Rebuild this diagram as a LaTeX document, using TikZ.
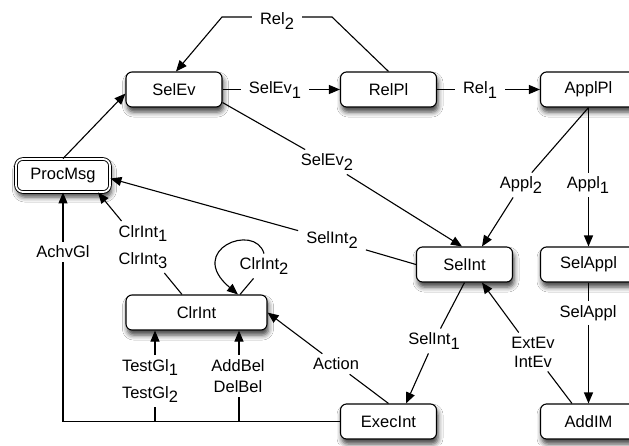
\documentclass[tikz,border=0pt]{standalone}
\usepackage{fontspec}
\setmainfont{Liberation Sans}
\usetikzlibrary{arrows.meta,shadows.blur,calc}
\newcommand\lsub[1]{\raisebox{-4.5pt}{#1}}
\begin{document}
\begin{tikzpicture}[x=1pt,y=-1pt,
  every node/.style={font=\fontsize{16.5}{19}\selectfont},
  box/.style={draw, line width=1.1pt, rounded corners=6pt, minimum width=96pt,
    minimum height=35pt, inner sep=0pt, fill=white,
    blur shadow={shadow xshift=1.5pt, shadow yshift=-5pt, shadow blur radius=5pt, shadow opacity=75}},
  dbox/.style={box, double, double distance=1.8pt, line width=0.9pt, minimum width=94pt, minimum height=33pt, rounded corners=7pt},
  lab/.style={inner xsep=8pt, inner ysep=4pt, align=center},
  con/.style={line width=1.1pt},
  arr/.style={con, -{Triangle[length=11pt,width=9pt]}}]
\useasboundingbox (0,0) rectangle (629,445);
\clip (0,0) rectangle (629,445);
\fill[white] (0,0) rectangle (629,445);

% boxes
\node[box] (SelEv) at (174,89.5) {SelEv};
\node[box] (RelPl) at (388.5,89.5) {RelPl};
\node[box] (ApplPl) at (588.5,89.5) {ApplPl};
\node[dbox] (ProcMsg) at (63,175.5) {ProcMsg};
\node[box] (SelInt) at (464.5,264.5) {SelInt};
\node[box] (SelAppl) at (588.5,264.5) {SelAppl};
\node[box, minimum width=141pt] (ClrInt) at (196.5,312.5) {ClrInt};
\node[box] (ExecInt) at (388.5,421.5) {ExecInt};
\node[box] (AddIM) at (588.5,421.5) {AddIM};

% labels
\node[lab] (lRel2) at (277,21) {Rel\lsub2};
\node[lab] (lSelEv1) at (275,90) {SelEv\lsub1};
\node[lab] (lRel1) at (480,90) {Rel\lsub1};
\node[lab] (lSelEv2) at (327,162) {SelEv\lsub2};
\node[lab] (lAppl2) at (521,185) {Appl\lsub2};
\node[lab] (lAppl1) at (588,185) {Appl\lsub1};
\node[lab] (lSelInt2) at (332,240) {SelInt\lsub2};
\node[lab] (lSelInt1) at (434,341) {SelInt\lsub1};
\node[lab] (lExt) at (533,352) {ExtEv\\IntEv};
\node[lab] (lSelAppl) at (588,313) {SelAppl};
\node[lab] (lAction) at (336,364) {Action};
\node[lab] (lClr13) at (143,247) {ClrInt\lsub1\\[8pt]ClrInt\lsub3};
\node[lab] (lClr2) at (264,266) {ClrInt\lsub2};
\node[lab] (lAchv) at (63,252) {AchvGl};
\node[lab] (lTest) at (150,381) {TestGl\lsub1\\[8pt]TestGl\lsub2};
\node[lab] (lAdd) at (238,376) {AddBel\\[2pt]DelBel};

% helper coordinates
\coordinate (r2a) at (332,17);
\coordinate (r2b) at (222,17);
\coordinate (c1) at (ProcMsg.south |- ExecInt.west);
\coordinate (t1) at (155,421.5);
\coordinate (t2) at (239,421.5);

% connectors
\draw[arr] (ProcMsg.north) -- ([yshift=14pt]SelEv.south west);

\draw[con] (RelPl.north) -- (r2a) -- (lRel2.east |- r2a);
\draw[arr] (lRel2.west |- r2b) -- (r2b) -- ([xshift=2pt]SelEv.north);

\draw[con] (SelEv.east) -- (lSelEv1.west |- SelEv.east);
\draw[arr] (lSelEv1.east |- RelPl.west) -- (RelPl.west);

\draw[con] (RelPl.east) -- (lRel1.west |- RelPl.east);
\draw[arr] (lRel1.east |- ApplPl.west) -- (ApplPl.west);

\draw[con] ([yshift=5pt]SelEv.south east) -- (lSelEv2);
\draw[arr] (lSelEv2) -- ([xshift=-2.5pt]SelInt.north);

\draw[con] (ApplPl.south) -- (lAppl2);
\draw[arr] (lAppl2) -- ([xshift=17.5pt]SelInt.north);

\draw[con] (ApplPl.south) -- (ApplPl.south |- lAppl1.north);
\draw[arr] (ApplPl.south |- lAppl1.south) -- (SelAppl.north);

\draw[con] (SelInt.west) -- (lSelInt2);
\draw[arr] (lSelInt2) -- ([yshift=-3pt]ProcMsg.east);

\draw[con] (SelInt.south) -- (lSelInt1);
\draw[arr] (lSelInt1) -- ([xshift=17.5pt]ExecInt.north);

\draw[con] ([xshift=-16.5pt]AddIM.north) -- (lExt);
\draw[arr] (lExt) -- ([xshift=17.5pt]SelInt.south);

\draw[con] (SelAppl.south) -- (SelAppl.south |- lSelAppl.north);
\draw[arr] (SelAppl.south |- lSelAppl.south) -- (AddIM.north);

\draw[con] (ExecInt.north) -- (lAction);
\draw[arr] (lAction) -- (ClrInt.east);

\draw[con] ([xshift=-14.5pt]ClrInt.north) -- (lClr13);
\draw[arr] (lClr13) -- ([xshift=35pt]ProcMsg.south);

\draw[con] ([xshift=43.5pt]ClrInt.north) -- (lClr2);
\draw[arr] (lClr2.north) .. controls (255,222) and (185,250) .. ([xshift=41.5pt]ClrInt.north);

\draw[con] (ExecInt.west) -- (c1) -- (c1 |- lAchv.south);
\draw[arr] (c1 |- lAchv.north) -- (ProcMsg.south);

\draw[con] (t1) -- (t1 |- lTest.south);
\draw[arr] (t1 |- lTest.north) -- (t1 |- ClrInt.south);

\draw[con] (t2) -- (t2 |- lAdd.south);
\draw[arr] (t2 |- lAdd.north) -- (t2 |- ClrInt.south);
\end{tikzpicture}
\end{document}
